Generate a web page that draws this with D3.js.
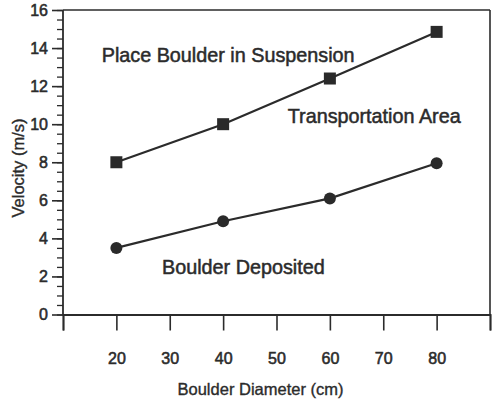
<!DOCTYPE html>
<html><head><meta charset="utf-8">
<script src="https://cdn.jsdelivr.net/npm/d3@7"></script>
<style>
html,body{margin:0;padding:0;background:#fff;}
text{font-family:"Liberation Sans",Arial,sans-serif;fill:#2b2b2b;}
</style></head>
<body><svg id="c" width="496" height="404"></svg>
<script>
const diameters = [20, 40, 60, 80];
const suspension = [8.0, 10.0, 12.4, 14.85];
const deposited = [3.5, 4.9, 6.1, 7.95];
const xTicks = [10, 20, 30, 40, 50, 60, 70, 80, 90];
const xTickLabels = ["", "20", "30", "40", "50", "60", "70", "80", ""];
const yTicks = [0, 2, 4, 6, 8, 10, 12, 14, 16];
const annotations = [
  {text: "Place Boulder in Suspension", x: 17.25, y: 13.27},
  {text: "Transportation Area", x: 52.1, y: 10.06},
  {text: "Boulder Deposited", x: 28.55, y: 2.13}
];

const svg = d3.select("#c");
const L = 63, R = 490, T = 10, B = 314.5;
const x = d3.scaleLinear().domain([10, 90]).range([L, R]);
const y = d3.scaleLinear().domain([0, 16]).range([B, T]);
const ink = "#2b2b2b";

// frame
svg.append("line").attr("x1", L).attr("x2", R).attr("y1", T).attr("y2", T).attr("stroke", ink).attr("stroke-width", 1.6);
svg.append("line").attr("x1", R).attr("x2", R).attr("y1", T).attr("y2", B).attr("stroke", ink).attr("stroke-width", 1.6);

// x axis
const xAxis = d3.axisBottom(x).tickValues(xTicks).tickSize(16).tickPadding(22)
  .tickFormat((d, i) => xTickLabels[i]);
const gx = svg.append("g").attr("transform", `translate(0,${B})`).call(xAxis);
gx.select(".domain").attr("stroke", ink).attr("stroke-width", 1.8);
gx.selectAll(".tick line").attr("stroke", ink).attr("stroke-width", 1.6);
gx.selectAll(".tick text").attr("font-size", 16).attr("fill", ink).attr("stroke", ink).attr("stroke-width", 0.55)
  .attr("font-family", "Liberation Sans, Arial, sans-serif");

// y minor ticks
const yMinor = d3.axisLeft(y).tickValues(d3.range(0, 16.01, 0.5)).tickSize(6).tickFormat("");
const gym = svg.append("g").attr("transform", `translate(${L},0)`).call(yMinor);
gym.select(".domain").remove();
gym.selectAll(".tick line").attr("stroke", ink).attr("stroke-width", 1.3);

// y axis major
const yAxis = d3.axisLeft(y).tickValues(yTicks).tickSize(11).tickPadding(4).tickFormat(d3.format("d"));
const gy = svg.append("g").attr("transform", `translate(${L},0)`).call(yAxis);
gy.select(".domain").attr("stroke", ink).attr("stroke-width", 1.8).attr("d", `M0,${T}V${B}`);
gy.selectAll(".tick line").attr("stroke", ink).attr("stroke-width", 1.6);
gy.selectAll(".tick text").attr("font-size", 16).attr("fill", ink).attr("stroke", ink).attr("stroke-width", 0.55)
  .attr("font-family", "Liberation Sans, Arial, sans-serif");

// axis titles
svg.append("text").attr("x", (L + R) / 2 - 16).attr("y", 395).attr("text-anchor", "middle")
  .attr("font-size", 16.5).attr("stroke", ink).attr("stroke-width", 0.35).text("Boulder Diameter (cm)");
svg.append("text").attr("transform", "translate(24,168) rotate(-90)").attr("text-anchor", "middle")
  .attr("font-size", 16.5).attr("stroke", ink).attr("stroke-width", 0.35).text("Velocity (m/s)");

// lines
const line = d3.line().x((d, i) => x(diameters[i])).y(d => y(d));
svg.append("path").datum(suspension).attr("d", line).attr("fill", "none").attr("stroke", ink).attr("stroke-width", 2.2);
svg.append("path").datum(deposited).attr("d", line).attr("fill", "none").attr("stroke", ink).attr("stroke-width", 2.2);

// markers
const sq = 12;
svg.selectAll("rect.sq").data(suspension).enter().append("rect")
  .attr("x", (d, i) => x(diameters[i]) - sq / 2).attr("y", d => y(d) - sq / 2)
  .attr("width", sq).attr("height", sq).attr("fill", "#2a2a2a");
svg.selectAll("circle.dp").data(deposited).enter().append("circle")
  .attr("cx", (d, i) => x(diameters[i])).attr("cy", d => y(d)).attr("r", 6).attr("fill", "#2a2a2a");

// annotations
svg.selectAll("text.ann").data(annotations).enter().append("text")
  .attr("x", d => x(d.x)).attr("y", d => y(d.y)).attr("font-size", 19.8)
  .attr("stroke", ink).attr("stroke-width", 0.5).text(d => d.text);
</script></body></html>
